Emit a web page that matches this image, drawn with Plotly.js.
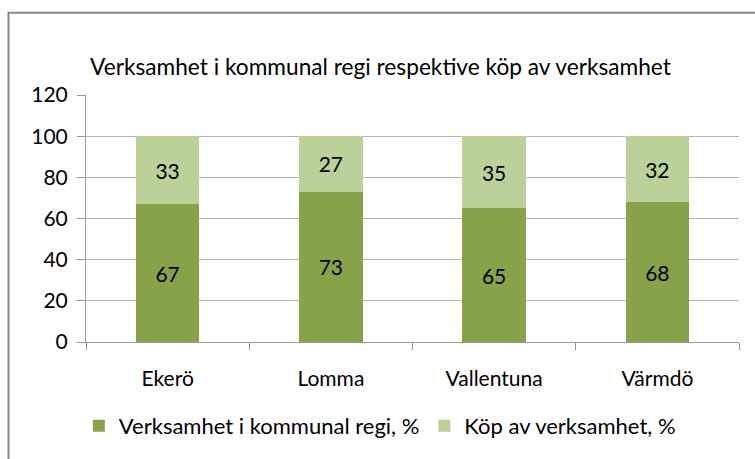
<!DOCTYPE html>
<html>
<head>
<meta charset="utf-8">
<script src="https://cdn.plot.ly/plotly-3.0.1.min.js"></script>
<style>
html,body{margin:0;padding:0;background:#fff;}
#chart{width:755px;height:459px;}
</style>
</head>
<body>
<div id="chart"></div>
<script>
const categories = ["Ekerö", "Lomma", "Vallentuna", "Värmdö"];
const kommunalRegi = [67, 73, 65, 68];
const kop = [33, 27, 35, 32];
const seriesNames = ["Verksamhet i kommunal regi, %", "Köp av verksamhet, %"];
const yTicks = [0, 20, 40, 60, 80, 100, 120];

const FONT = "Lato, 'Liberation Sans', Arial, sans-serif";
const FS = 21;

const traces = [
  {
    type: "bar", x: categories, y: kommunalRegi, name: seriesNames[0],
    marker: {color: "#86A34A"},
    text: kommunalRegi.map(String), textposition: "inside", insidetextanchor: "middle",
    textfont: {family: FONT, size: FS, color: "#000"}, hoverinfo: "skip"
  },
  {
    type: "bar", x: categories, y: kop, name: seriesNames[1],
    marker: {color: "#BAD19A"},
    text: kop.map(String), textposition: "inside", insidetextanchor: "middle",
    textfont: {family: FONT, size: FS, color: "#000"}, hoverinfo: "skip"
  }
];

const layout = {
  width: 755, height: 459,
  margin: {l: 86, r: 16, t: 95, b: 115},
  paper_bgcolor: "#fff", plot_bgcolor: "#fff",
  barmode: "stack", bargap: 0.61,
  font: {family: FONT, size: FS, color: "#000"},
  title: {
    text: "Verksamhet i kommunal regi respektive köp av verksamhet",
    x: 90/755, xanchor: "left", y: 1 - 67/459, yanchor: "middle",
    font: {family: FONT, size: 22.7, color: "#000"}
  },
  xaxis: {
    type: "category", showline: true, linecolor: "#999", linewidth: 1,
    ticks: "outside", tickson: "boundaries", ticklen: 7, tickcolor: "#999",
    ticklabelstandoff: 18,
    tickfont: {family: FONT, size: FS, color: "#000"}, showgrid: false
  },
  yaxis: {
    range: [0, 120], tickvals: yTicks, ticktext: yTicks.map(String),
    showline: true, linecolor: "#999", linewidth: 1,
    ticks: "outside", ticklen: 8, tickcolor: "#999",
    ticklabelstandoff: 5,
    showgrid: true, gridcolor: "#b3b3b3", gridwidth: 1, zeroline: false,
    tickfont: {family: FONT, size: FS, color: "#000"}
  },
  legend: {
    orientation: "h", x: 0.45, xanchor: "center", y: -0.34, yanchor: "middle",
    font: {family: FONT, size: 22, color: "#000"}, traceorder: "normal",
    itemwidth: 30
  },
  shapes: [{
    type: "rect", xref: "paper", yref: "paper",
    x0: (8.5-86)/653, x1: 1.05, y0: -0.5, y1: (344-12)/249,
    line: {color: "#888", width: 2}, fillcolor: "rgba(0,0,0,0)", layer: "below"
  }],
  showlegend: true
};

Plotly.newPlot("chart", traces, layout, {displayModeBar: false, staticPlot: true});
</script>
</body>
</html>
